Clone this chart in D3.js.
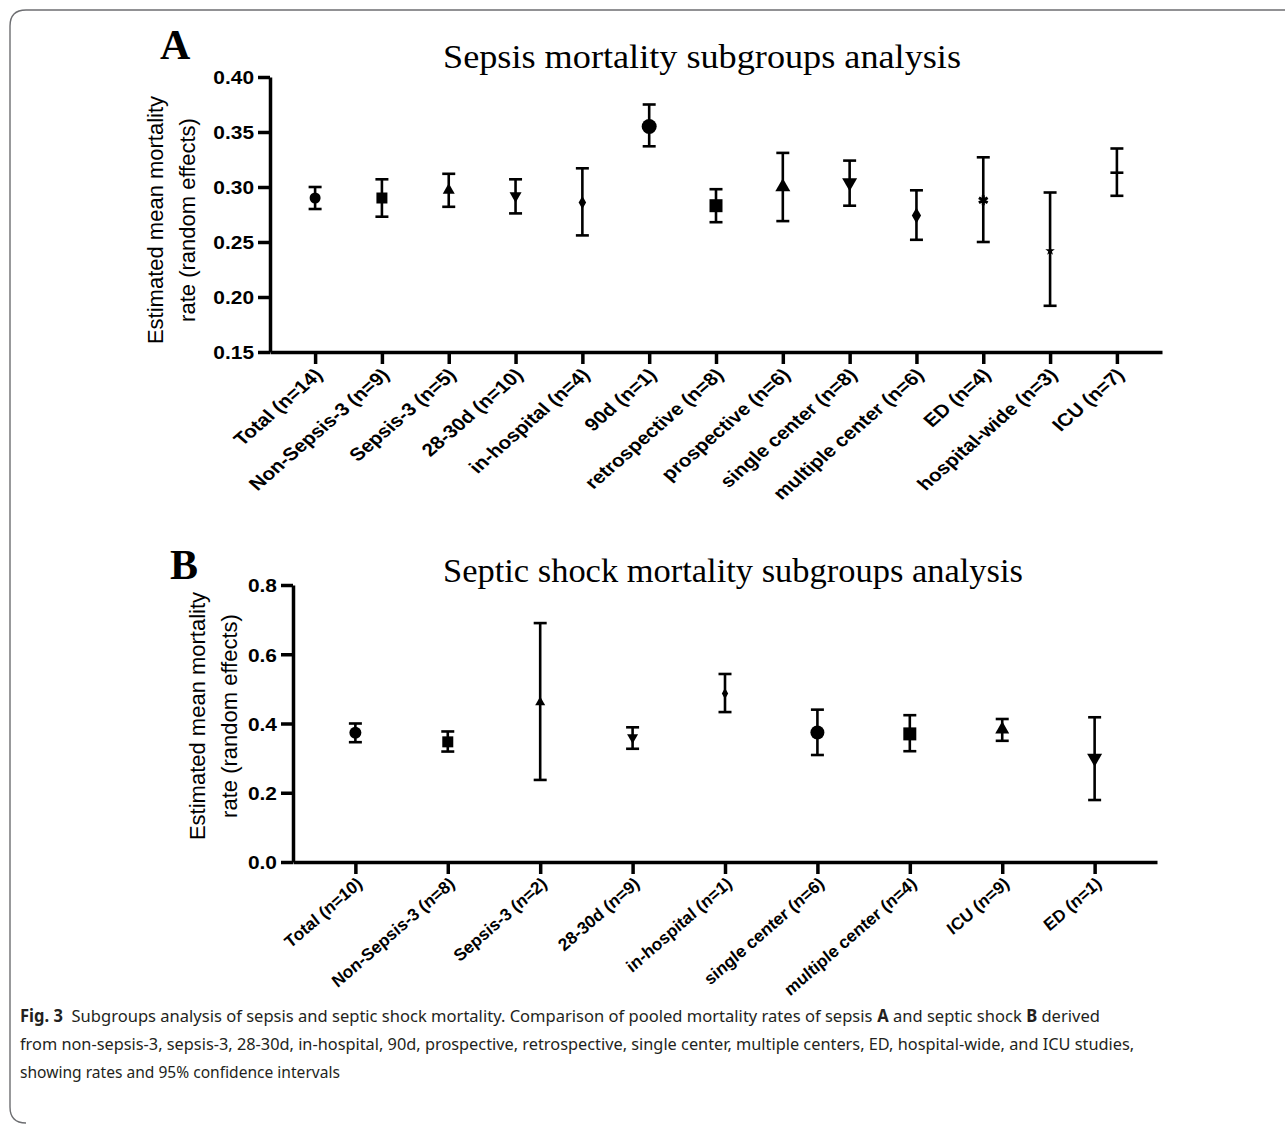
<!DOCTYPE html>
<html>
<head>
<meta charset="utf-8">
<title>Sepsis / septic shock mortality subgroups</title>
<script src="https://d3js.org/d3.v7.min.js"></script>
<style>
  body { margin: 0; background: #fff; }
  svg { display: block; }
  .tick text { font-family: "Liberation Sans", Arial, sans-serif; font-weight: bold; fill: #000; }
</style>
</head>
<body>
<svg id="fig" width="1285" height="1126"></svg>
<script>
// ---- panel A: sepsis ----
const sepsisCategories = ["Total (n=14)", "Non-Sepsis-3 (n=9)", "Sepsis-3 (n=5)", "28-30d (n=10)",
  "in-hospital (n=4)", "90d (n=1)", "retrospective (n=8)", "prospective (n=6)",
  "single center (n=8)", "multiple center (n=6)", "ED (n=4)", "hospital-wide (n=3)", "ICU (n=7)"];
const sepsisMean  = [0.290, 0.290, 0.297, 0.292, 0.286, 0.355, 0.283, 0.300, 0.304, 0.274, 0.288, 0.242, 0.313];
const sepsisLower = [0.280, 0.273, 0.282, 0.276, 0.256, 0.337, 0.268, 0.269, 0.283, 0.252, 0.250, 0.192, 0.292];
const sepsisUpper = [0.300, 0.307, 0.312, 0.307, 0.317, 0.375, 0.298, 0.331, 0.324, 0.297, 0.327, 0.295, 0.335];
const yTicksA = [0.15, 0.20, 0.25, 0.30, 0.35, 0.40];

// ---- panel B: septic shock ----
const shockCategories = ["Total (n=10)", "Non-Sepsis-3 (n=8)", "Sepsis-3 (n=2)", "28-30d (n=9)",
  "in-hospital (n=1)", "single center (n=6)", "multiple center (n=4)", "ICU (n=9)", "ED (n=1)"];
const shockMean  = [0.373, 0.347, 0.461, 0.360, 0.487, 0.374, 0.370, 0.383, 0.300];
const shockLower = [0.346, 0.319, 0.237, 0.327, 0.433, 0.309, 0.320, 0.350, 0.179];
const shockUpper = [0.400, 0.377, 0.690, 0.389, 0.543, 0.440, 0.424, 0.413, 0.418];
const yTicksB = [0.0, 0.2, 0.4, 0.6, 0.8];

// marker look per point (shape, rough pixel size)
const sepsisMarkers = [["circle", 11], ["square", 11], ["triangle", 12], ["triangleDown", 12], ["diamond", 13],
  ["circle", 15], ["square", 13], ["triangle", 15], ["triangleDown", 15], ["diamond", 16],
  ["asterisk", 10], ["star", 10], ["dash", 13]];
const shockMarkers = [["circle", 12], ["square", 11], ["triangle", 10], ["triangleDown", 11], ["diamond", 11],
  ["circle", 14], ["square", 13], ["triangle", 14], ["triangleDown", 15]];

const svg = d3.select("#fig");

// frame round the figure + caption
svg.append("path")
  .attr("d", "M26,1123 Q10,1123 10,1107 V26 Q10,10 26,10 H1285")
  .attr("fill", "none").attr("stroke", "#6d6e71").attr("stroke-width", 1.4);

function markerPath(m) {
  const [type, d] = m;
  const sym = d3.symbol();
  if (type === "circle") return sym.type(d3.symbolCircle).size(Math.PI * d * d / 4)();
  if (type === "square") return sym.type(d3.symbolSquare).size(d * d)();
  if (type === "triangle" || type === "triangleDown")
    return sym.type(d3.symbolTriangle).size(Math.sqrt(3) / 4 * d * d)();
  if (type === "diamond") return sym.type(d3.symbolDiamond).size((d / 2) * (d / 2) * 1.1547)();
  if (type === "star") return sym.type(d3.symbolStar).size((d / 2) * (d / 2) / 0.8908)();
  if (type === "asterisk") return sym.type(d3.symbolAsterisk).size(Math.pow(d / 2 / 0.594, 2))();
  return "M" + (-d / 2) + ",0H" + (d / 2);
}

// the source figure is slightly stretched sideways
const stretch = 1.15;

function drawPanel(p) {
  const x = d3.scalePoint().domain(p.categories).range(p.xRange).padding(0.675);
  const y = d3.scaleLinear().domain(p.yDomain).range(p.yRange);
  const g = svg.append("g");

  // y axis
  const yAxis = g.append("g")
    .attr("transform", "translate(" + p.xRange[0] + ",0)")
    .call(d3.axisLeft(y).tickValues(p.ticks).tickFormat(p.fmt).tickSize(12).tickSizeOuter(0).tickPadding(4));
  yAxis.selectAll("path, line").attr("stroke", "#000").attr("stroke-width", 3.5);
  yAxis.selectAll("text").style("font-size", "19px").attr("dy", "0.36em")
    .each(function () {
      d3.select(this).attr("textLength", this.getComputedTextLength() * 1.1)
        .attr("lengthAdjust", "spacingAndGlyphs");
    });

  // x axis
  const xAxis = g.append("g")
    .attr("transform", "translate(0," + p.yRange[0] + ")")
    .call(d3.axisBottom(x).tickSize(12).tickSizeOuter(0));
  xAxis.selectAll("path, line").attr("stroke", "#000").attr("stroke-width", 3.5);
  xAxis.selectAll("text")
    .attr("y", 0).attr("dy", 0)
    .attr("transform", "translate(8," + p.labelDy + ") scale(" + stretch + ",1) rotate(-45)")
    .style("text-anchor", "end")
    .style("font-size", p.labelSize + "px")
    .style("font-style", p.italic ? "italic" : "normal");

  // error bars
  const bars = g.append("g").attr("stroke", "#000").attr("stroke-width", 2.6);
  p.categories.forEach((c, i) => {
    const cx = x(c);
    bars.append("line").attr("x1", cx).attr("x2", cx)
      .attr("y1", y(p.lower[i])).attr("y2", y(p.upper[i]));
    [p.lower[i], p.upper[i]].forEach(v => {
      bars.append("line").attr("x1", cx - 6.5).attr("x2", cx + 6.5)
        .attr("y1", y(v)).attr("y2", y(v));
    });
  });

  // markers
  g.append("g").selectAll("path")
    .data(p.categories)
    .join("path")
    .attr("d", (c, i) => markerPath(p.markers[i]))
    .attr("transform", (c, i) => "translate(" + x(c) + "," + y(p.mean[i]) + ")" +
      (p.markers[i][0] === "triangleDown" ? " rotate(180)" : ""))
    .attr("fill", (c, i) => (p.markers[i][0] === "asterisk" || p.markers[i][0] === "dash") ? "none" : "#000")
    .attr("stroke", "#000")
    .attr("stroke-width", (c, i) => p.markers[i][0] === "asterisk" ? 3 : (p.markers[i][0] === "dash" ? 2.6 : 0));

  // y title (two lines)
  [[p.yTitleX, "Estimated mean mortality"], [p.yTitleX + 32, "rate (random effects)"]].forEach(([tx, t]) => {
    g.append("text")
      .attr("transform", "translate(" + tx + "," + p.yTitleY + ") rotate(-90)")
      .attr("text-anchor", "middle").attr("dominant-baseline", "central")
      .style("font-family", "'Liberation Sans', Arial, sans-serif")
      .style("font-size", "22px")
      .text(t);
  });

  // title
  g.append("text")
    .attr("x", p.titleX).attr("y", p.titleY)
    .attr("textLength", p.titleLen).attr("lengthAdjust", "spacingAndGlyphs")
    .style("font-family", "'Liberation Serif', 'Times New Roman', serif")
    .style("font-size", "33px")
    .text(p.title);

  // panel letter
  g.append("text")
    .attr("x", p.letterX).attr("y", p.letterY)
    .style("font-family", "'Liberation Serif', 'Times New Roman', serif")
    .style("font-size", "42px").style("font-weight", "bold")
    .text(p.letter);
}

drawPanel({
  categories: sepsisCategories, mean: sepsisMean, lower: sepsisLower, upper: sepsisUpper,
  markers: sepsisMarkers, ticks: yTicksA, fmt: d3.format(".2f"),
  xRange: [270, 1162], yRange: [352, 77], yDomain: [0.15, 0.40],
  labelSize: 18, labelDy: 24,
  yTitleX: 155, yTitleY: 220,
  title: "Sepsis mortality subgroups analysis", titleX: 443, titleY: 68, titleLen: 518,
  letter: "A", letterX: 160, letterY: 59, italic: false
});

drawPanel({
  categories: shockCategories, mean: shockMean, lower: shockLower, upper: shockUpper,
  markers: shockMarkers, ticks: yTicksB, fmt: d3.format(".1f"),
  xRange: [293, 1157], yRange: [862, 585], yDomain: [0, 0.8],
  labelSize: 16, labelDy: 23,
  yTitleX: 197, yTitleY: 716,
  title: "Septic shock mortality subgroups analysis", titleX: 443, titleY: 582, titleLen: 580,
  letter: "B", letterX: 170, letterY: 579, italic: true
});

// caption: pieces laid out at natural width, then each line squeezed as a whole
function captionLine(pieces, y, width) {
  const line = svg.append("g")
    .style("font-family", "'Noto Sans', 'Open Sans', sans-serif")
    .style("font-size", "17px")
    .attr("fill", "#231f20");
  let cx = 0;
  pieces.forEach(([t, bold]) => {
    const el = line.append("text").attr("x", cx).attr("y", 0)
      .style("font-weight", bold ? "bold" : "normal")
      .style("white-space", "pre").text(t);
    cx += el.node().getComputedTextLength();
  });
  line.attr("transform", "translate(20," + y + ") scale(" + (width / cx) + ",1)");
}
captionLine([["Fig. 3", true],
  ["  Subgroups analysis of sepsis and septic shock mortality. Comparison of pooled mortality rates of sepsis ", false],
  ["A", true], [" and septic shock ", false], ["B", true], [" derived", false]], 1022, 1080);
captionLine([["from non-sepsis-3, sepsis-3, 28-30d, in-hospital, 90d, prospective, retrospective, single center, multiple centers, ED, hospital-wide, and ICU studies,", false]], 1050, 1115);
captionLine([["showing rates and 95% confidence intervals", false]], 1078, 320);
</script>
</body>
</html>
